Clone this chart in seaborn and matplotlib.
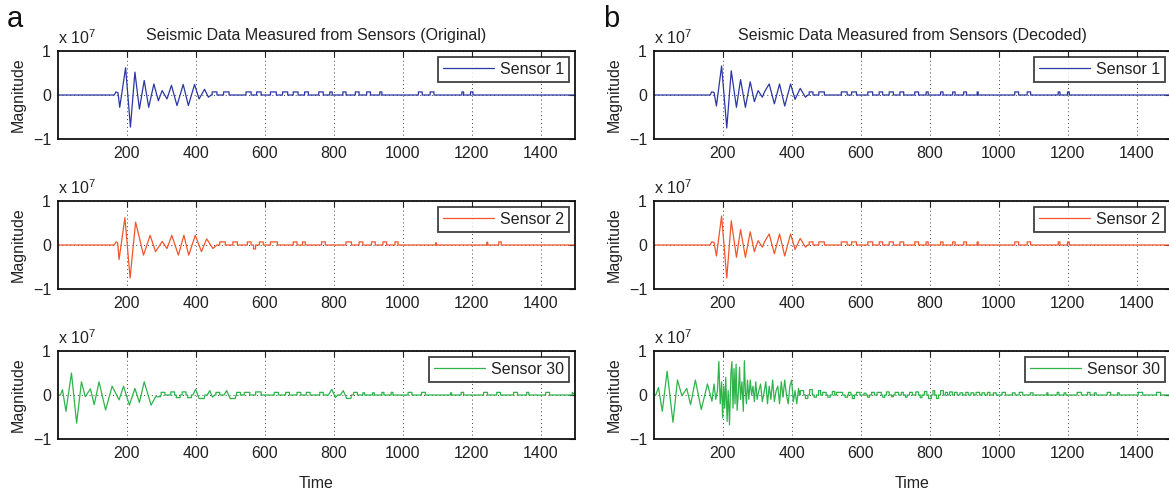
import numpy as np
import pandas as pd
import matplotlib
matplotlib.use("Agg")
import matplotlib.pyplot as plt
import seaborn as sns

# ---------------- data (values in units of 1e7) ----------------
# Sensor 1, original: oscillation key points
s1o_t = [0, 164, 169, 175, 180, 197, 211, 224, 237, 251, 264, 279, 292, 303, 317, 330, 346, 364, 379, 397, 410, 426, 437, 445]
s1o_v = [0, 0, 0.07, 0.05, -0.28, 0.62, -0.73, 0.52, -0.32, 0.33, -0.28, 0.25, -0.13, 0.1, -0.09, 0.22, -0.24, 0.24, -0.24, 0.24, -0.09, 0.13, -0.05, 0]
s1o_ps = [448, 481, 546, 577, 617, 652, 683, 716, 757, 789, 827, 863, 896, 934, 1046, 1080, 1172, 1197]
s1o_pe = [462, 497, 561, 590, 634, 667, 697, 727, 770, 796, 836, 874, 907, 940, 1057, 1091, 1177, 1204]
s1o_ph = [0.07] * 18

# Sensor 2, original
s2o_t = [0, 164, 169, 174, 178, 195, 210, 226, 249, 268, 284, 303, 317, 331, 350, 366, 380, 399, 417, 432, 450, 462]
s2o_v = [0, 0, 0.07, 0.05, -0.33, 0.62, -0.75, 0.52, -0.23, 0.22, -0.15, 0.08, -0.08, 0.22, -0.23, 0.22, -0.23, 0.22, -0.15, 0.14, -0.08, 0]
s2o_ps = [470, 508, 550, 568, 585, 617, 683, 710, 765, 836, 874, 910, 943, 978, 1096, 1244, 1279]
s2o_pe = [486, 521, 561, 574, 596, 637, 694, 718, 776, 852, 885, 921, 954, 987, 1098, 1247, 1286]
s2o_ph = [0.07, 0.07, 0.07, -0.09, 0.07, 0.07, 0.07, 0.07, 0.07, 0.07, 0.07, 0.07, 0.07, 0.07, 0.05, 0.06, 0.07]

# Sensor 30, original
s30o_t = [0, 8, 14, 24, 40, 55, 69, 80, 95, 106, 120, 139, 158, 178, 191, 208, 224, 237, 251, 271, 284, 298,
          392, 400, 410, 425, 427, 434, 441, 449, 455, 482, 490, 500, 515, 517,
          785, 795, 805, 812, 820, 828, 838, 850, 852, 1500]
s30o_v = [0, 0, 0.12, -0.37, 0.5, -0.64, 0.3, -0.04, 0.14, -0.22, 0.3, -0.34, 0.2, -0.11, 0.2, -0.23, 0.15, -0.17, 0.3, -0.23, -0.04, -0.04,
          0, 0.13, -0.08, -0.08, 0, 0, 0.1, -0.05, 0, 0, 0.1, -0.08, -0.08, 0,
          0, 0.13, -0.06, 0, 0, 0.1, -0.08, -0.08, 0, 0]
s30o_ps = [300, 328, 344, 361, 377, 459, 519, 541, 574, 628, 661, 694, 721, 760, 858, 885, 913, 940, 967, 1016, 1055, 1139, 1170, 1235, 1273, 1322, 1360, 1415, 1492]
s30o_pe = [311, 339, 355, 372, 388, 470, 530, 557, 590, 640, 672, 705, 732, 770, 869, 890, 918, 946, 972, 1027, 1066, 1142, 1177, 1246, 1284, 1333, 1366, 1426, 1500]
s30o_ph = [0.06, 0.07, -0.06, 0.07, -0.06, 0.06, 0.06, 0.06, 0.07, 0.06, 0.06, 0.06, 0.06, 0.06, 0.06, 0.05, 0.05, 0.06, 0.06, 0.06, 0.06, 0.05, 0.06, 0.06, 0.06, 0.06, 0.06, 0.06, 0.06]

# Sensor 1 / Sensor 2, decoded
s1d_t = [0, 164, 168, 175, 182, 197, 212, 225, 240, 252, 266, 280, 292, 303, 315, 322, 335, 350, 365, 380, 397, 410, 425, 440, 447]
s1d_v = [0, 0, 0.07, 0.06, -0.25, 0.66, -0.75, 0.55, -0.28, 0.35, -0.28, 0.3, -0.15, 0.1, -0.05, 0.08, 0.25, -0.2, 0.25, -0.25, 0.25, -0.1, 0.15, -0.05, 0]
s1d_ps = [451, 479, 544, 574, 621, 654, 683, 714, 757, 790, 832, 867, 899, 938, 1047, 1083, 1173, 1200]
s1d_pe = [462, 495, 561, 588, 635, 664, 695, 725, 768, 796, 839, 874, 907, 941, 1058, 1093, 1178, 1205]
s1d_ph = [0.07] * 18

# Sensor 30, decoded
s30d_t = [0, 6, 14, 25, 39, 56, 69, 82, 96, 107, 121, 138, 156, 169,
          175, 180, 185, 189, 193, 197, 200, 203, 206, 209, 213, 216, 220, 224, 227, 230, 233, 236, 239, 242,
          246, 249, 252, 256, 260, 263, 266, 269, 272, 276, 280, 284, 288, 292, 296, 300, 305, 310, 315, 320,
          325, 330, 335, 340, 345, 350, 355, 360, 365, 370, 375, 380, 385, 390, 395, 400, 405, 410, 415, 420, 423,
          1500]
s30d_v = [0, 0, 0.17, -0.37, 0.54, -0.62, 0.34, -0.02, 0.15, -0.22, 0.34, -0.33, 0.25, -0.14,
          0.25, -0.1, 0.1, 0.76, -0.2, 0.3, -0.52, 0.2, -0.3, 0.4, -0.6, 0.1, -0.68, 0.5, 0.76, -0.3, 0.6, -0.2, 0.7, -0.35,
          0.1, 0.63, -0.1, 0.3, -0.37, 0.78, 0.1, -0.2, 0.34, -0.1, 0.34, 0.0, 0.2, -0.15, 0.3, -0.1, 0.1, 0.25, -0.15, 0.05,
          0.3, -0.2, 0.2, -0.1, 0.34, -0.15, 0.1, 0.2, -0.2, 0.3, -0.05, 0.34, 0.0, -0.2, 0.2, 0.34, -0.15, 0.1, -0.2, 0.15, 0,
          0]
s30d_ps = [425, 440, 452, 465, 478, 490, 505, 518, 530, 555, 565, 576, 588, 610, 620, 632, 648, 664, 675, 690, 700, 718, 730, 742,
           760, 773, 785, 797, 810, 820, 832, 846, 858, 872, 888, 905, 920, 935, 952, 968, 985, 1010, 1040, 1060, 1092, 1140,
           1170, 1190, 1228, 1258, 1278, 1315, 1345, 1405, 1458, 1496]
s30d_pe = [435, 447, 460, 472, 484, 500, 512, 525, 548, 562, 572, 582, 598, 616, 626, 640, 660, 670, 683, 695, 710, 724, 735, 750,
           768, 778, 792, 805, 815, 826, 840, 852, 866, 880, 896, 912, 928, 945, 960, 975, 993, 1020, 1048, 1070, 1100, 1143,
           1175, 1195, 1240, 1265, 1283, 1325, 1350, 1418, 1470, 1500]
s30d_ph = [0.1, -0.08, 0.12, -0.05, 0.1, 0.06, -0.05, 0.08, 0.06, -0.05, 0.06, -0.08, 0.06, 0.04, -0.05, 0.06, 0.06, -0.05, 0.07, -0.04,
           0.06, 0.06, -0.05, 0.06, 0.07, -0.06, 0.08, -0.08, 0.1, -0.08, 0.1, 0.06, 0.07, 0.06, 0.05, 0.06, 0.05, 0.06, 0.05, 0.06,
           0.05, 0.06, 0.05, 0.06, 0.05, 0.05, 0.06, 0.05, 0.06, 0.06, 0.05, 0.06, 0.05, 0.06, 0.06, 0.06]

x_ticks = [200, 400, 600, 800, 1000, 1200, 1400]
y_ticks = [-1, 0, 1]
y_ticklabels = ["\u22121", "0", "1"]
titles = ["Seismic Data Measured from Sensors (Original)", "Seismic Data Measured from Sensors (Decoded)"]
panel_letters = ["a", "b"]
sensor_names = ["Sensor 1", "Sensor 2", "Sensor 30"]
colors = ["#2b37a3", "#f2552c", "#2eb44b"]


def build(wt, wv, ps, pe, ph, end=1500):
    t = list(wt)
    v = list(wv)
    for s, e, h in zip(ps, pe, ph):
        t += [s, s, e, e]
        v += [0, h, h, 0]
    t.append(end)
    v.append(0)
    t = np.asarray(t, float)
    v = np.asarray(v, float)
    order = np.argsort(t, kind="stable")
    return pd.DataFrame({"Time": t[order], "Magnitude": v[order]})


series = [
    [build(s1o_t, s1o_v, s1o_ps, s1o_pe, s1o_ph),
     build(s2o_t, s2o_v, s2o_ps, s2o_pe, s2o_ph),
     build(s30o_t, s30o_v, s30o_ps, s30o_pe, s30o_ph)],
    [build(s1d_t, s1d_v, s1d_ps, s1d_pe, s1d_ph),
     build(s1d_t, s1d_v, s1d_ps, s1d_pe, s1d_ph),
     build(s30d_t, s30d_v, s30d_ps, s30d_pe, s30d_ph)],
]

# ---------------- style ----------------
sns.set_style("white")
plt.rcParams["font.family"] = ["Liberation Sans", "DejaVu Sans"]
plt.rcParams["mathtext.fontset"] = "custom"
plt.rcParams["mathtext.rm"] = "Liberation Sans"
plt.rcParams["mathtext.it"] = "Liberation Sans"
TXT = "#222222"
FS = 11.5

fig = plt.figure(figsize=(11.69, 4.90), dpi=100)
W, H = 1169.0, 490.0
col_left = [58, 654]
row_top = [51, 201, 351]
ax_w = 517
ax_h = 88

for c in range(2):
    for r in range(3):
        x0 = col_left[c] / W
        y0 = 1 - (row_top[r] + ax_h) / H
        ax = fig.add_axes([x0, y0, ax_w / W, ax_h / H])
        df = series[c][r]
        sns.lineplot(data=df, x="Time", y="Magnitude", ax=ax, color=colors[r], lw=0.9,
                     estimator=None, sort=False, label=sensor_names[r])
        ax.set_xlim(1, 1500)
        ax.set_ylim(-1, 1)
        ax.set_xticks(x_ticks)
        ax.set_xticklabels([str(x) for x in x_ticks], fontsize=FS, color=TXT)
        ax.set_yticks(y_ticks)
        ax.set_yticklabels(y_ticklabels, fontsize=FS, color=TXT)
        ax.tick_params(direction="in", length=4, width=0.8, top=True, right=True,
                       colors=TXT, pad=5)
        ax.grid(True, linestyle=(0, (1, 3)), color="#444444", linewidth=0.7)
        for sp in ax.spines.values():
            sp.set_color("#111111")
            sp.set_linewidth(1.3)
        ax.set_ylabel("Magnitude", fontsize=FS, color=TXT, labelpad=5)
        if r == 2:
            ax.set_xlabel("Time", fontsize=FS, color=TXT, labelpad=11)
        else:
            ax.set_xlabel("")
        ax.text(0.0, 1.04, r"x 10$^{7}$", transform=ax.transAxes, fontsize=FS,
                color=TXT, ha="left", va="bottom")
        leg = ax.legend(loc="upper right", bbox_to_anchor=(1 - 6 / ax_w, 1 - 6 / ax_h),
                        borderaxespad=0, frameon=True, fancybox=False, fontsize=FS,
                        handlelength=3.2, handletextpad=0.4, borderpad=0.3)
        leg.get_frame().set_edgecolor("#111111")
        leg.get_frame().set_linewidth(1.3)
        for txt in leg.get_texts():
            txt.set_color(TXT)
        if r == 0:
            ax.set_title(titles[c], fontsize=FS, color=TXT, pad=8)
    fig.text((col_left[c] - 43) / W, 1 - 19 / H, panel_letters[c], fontsize=21,
             color="#111111", ha="center", va="center")

fig.savefig("out.png", dpi=100)
